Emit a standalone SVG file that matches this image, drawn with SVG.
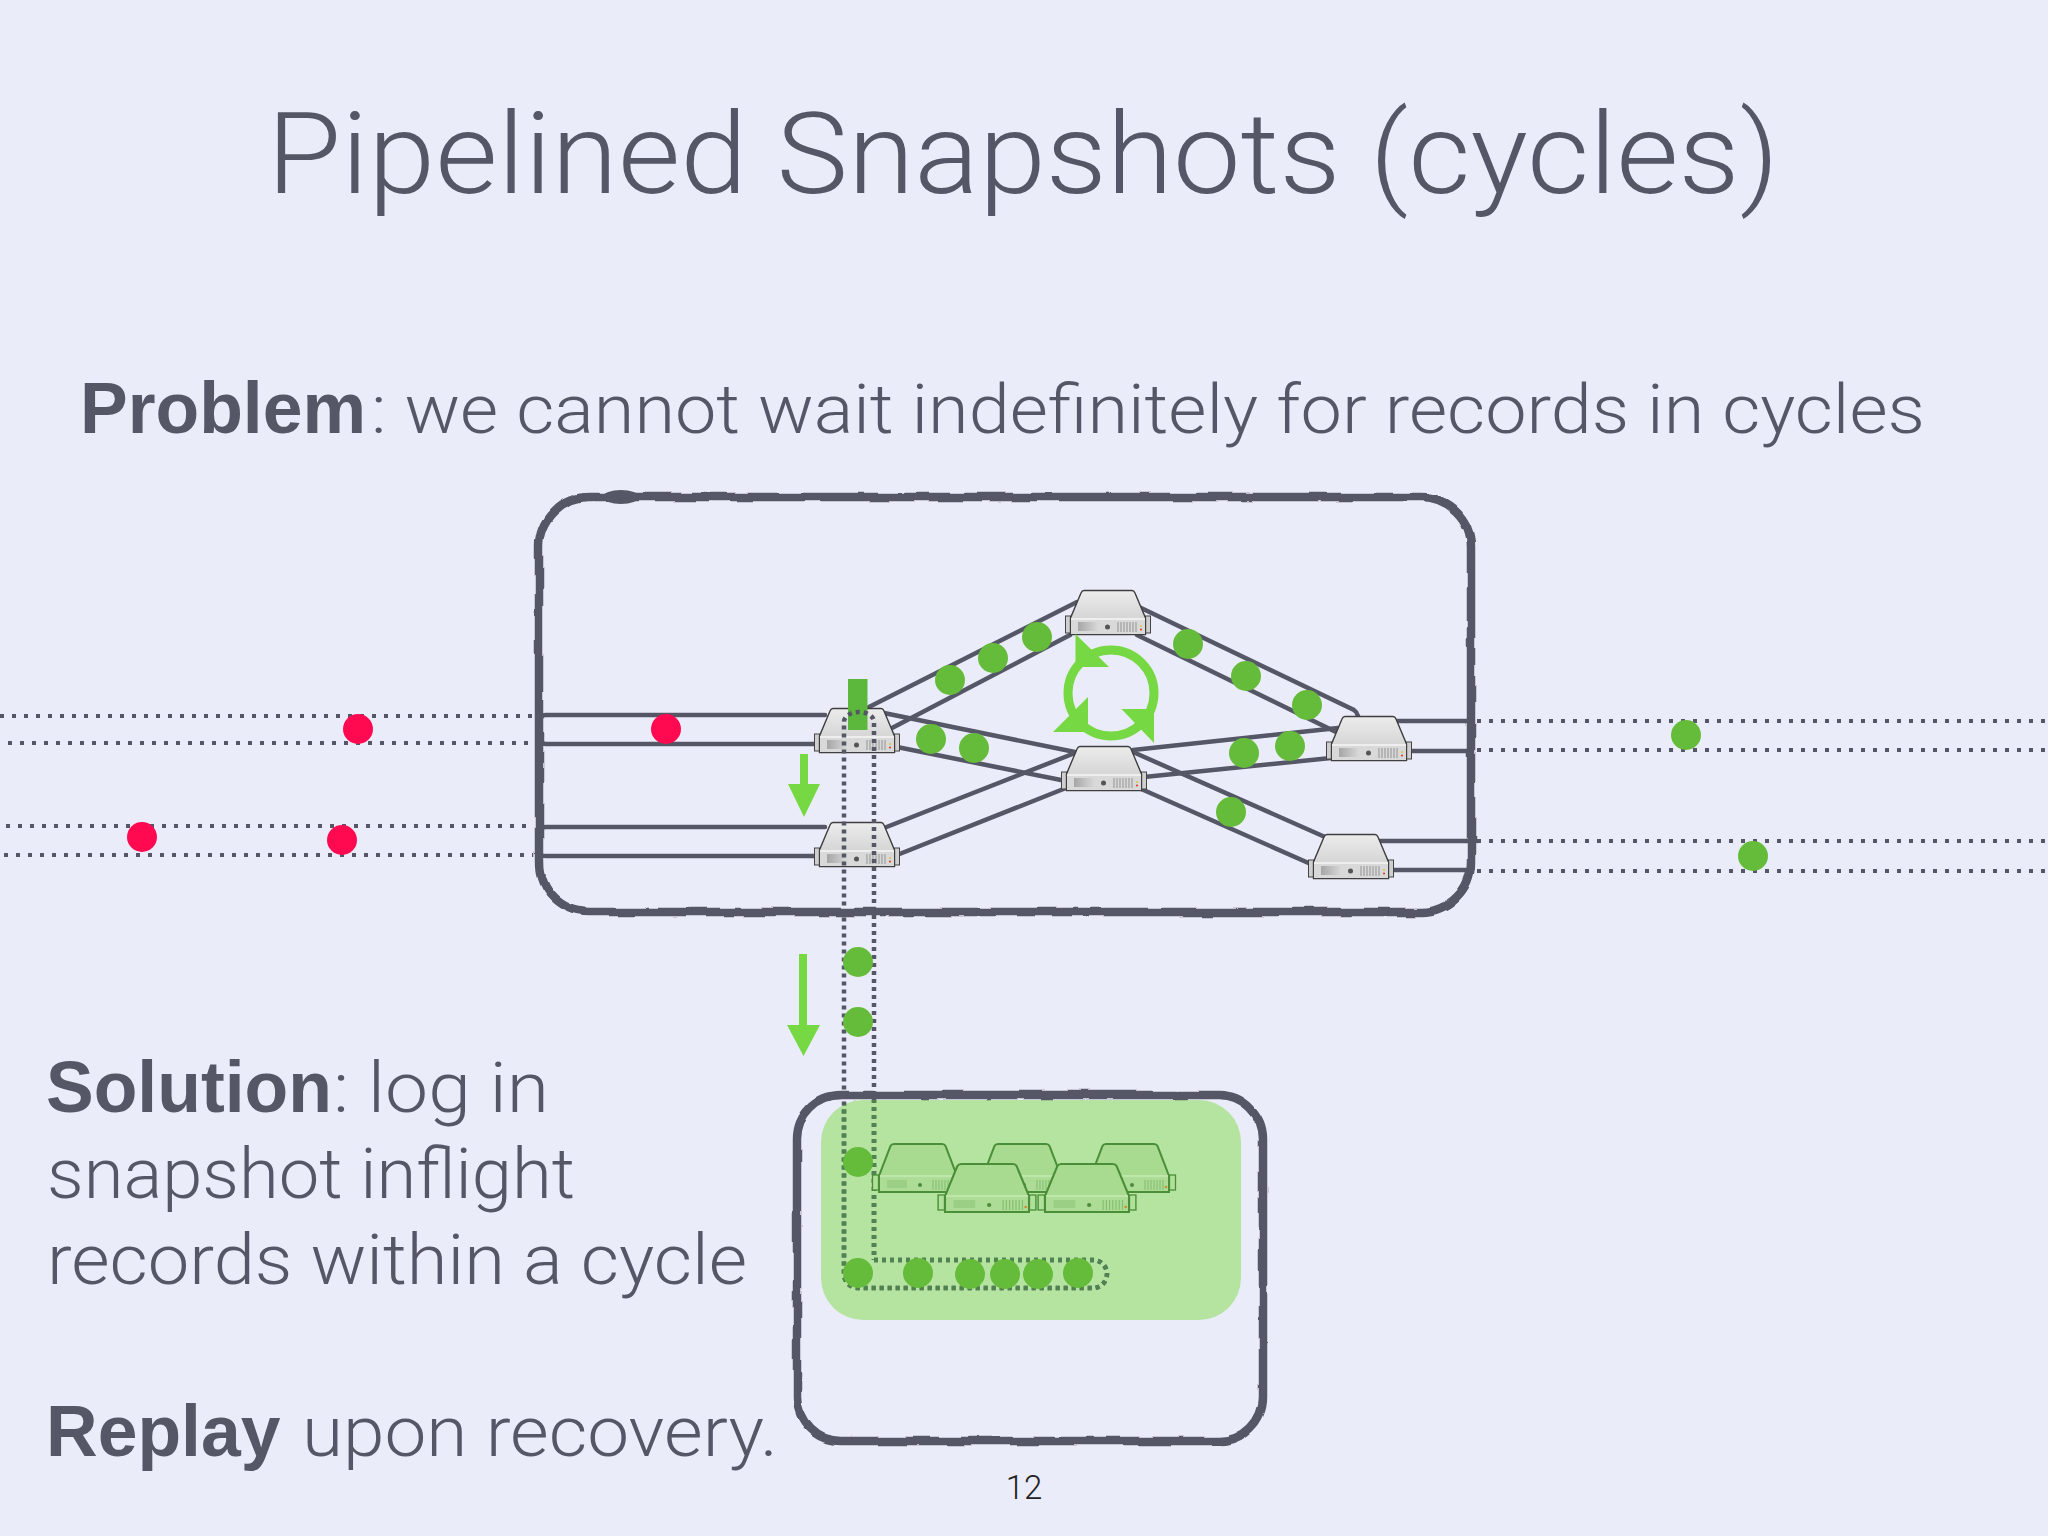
<svg xmlns="http://www.w3.org/2000/svg" width="2048" height="1536" viewBox="0 0 2048 1536">
<style>
.t{font-family:"Roboto","Liberation Sans",sans-serif;font-weight:300;fill:#565766}
.b{font-family:"Liberation Sans",Arial,sans-serif;font-weight:700;fill:#565766}
.wire{fill:none;stroke:#555766;stroke-width:4.500;stroke-linecap:round}
.dot{fill:none;stroke:#555766;stroke-width:4;stroke-dasharray:4 8}
.vdot{fill:none;stroke:#555766;stroke-width:4.500;stroke-dasharray:4 4}
.g{fill:#65BC3A}
.r{fill:#FF0A50}
.box{fill:none;stroke:#555766;stroke-width:8.500;filter:url(#wob)}
.bright{fill:#76D944}
</style>
<defs>
<filter id="wob" x="-3%" y="-3%" width="106%" height="106%"><feTurbulence type="fractalNoise" baseFrequency="0.03" numOctaves="2" seed="4"/><feDisplacementMap in="SourceGraphic" scale="5" xChannelSelector="R" yChannelSelector="G"/></filter>
<clipPath id="storeClip"><rect x="821" y="1100" width="420" height="220" rx="42"/></clipPath>
<linearGradient id="top" x1="0" y1="0" x2="0" y2="1"><stop offset="0" stop-color="#ECECEC"/><stop offset="1" stop-color="#C9C9C9"/></linearGradient>
<linearGradient id="slot" x1="0" y1="0" x2="1" y2="0"><stop offset="0" stop-color="#A6A6A6"/><stop offset="1" stop-color="#D8D8D8"/></linearGradient>
<g id="server">
<rect x="-4.500" y="26" width="5" height="17" fill="#CFCFCF" stroke="#444" stroke-width="1"/>
<rect x="75.500" y="26" width="5" height="17" fill="#CFCFCF" stroke="#444" stroke-width="1"/>
<path d="M14 0.500H62Q64 0.500 65 3L75.500 28V44.500H0.500V28L11 3Q12 0.500 14 0.500Z" fill="url(#top)" stroke="#3F3F3F" stroke-width="1.400"/>
<rect x="1" y="29" width="74" height="15" fill="#D9D9D9"/>
<path d="M1 29H75" stroke="#F6F6F6" stroke-width="1.500"/>
<rect x="8" y="32" width="20" height="9" fill="url(#slot)"/>
<circle cx="37.500" cy="37" r="2.500" fill="#555"/>
<path d="M48 32v10M51 32v10M54 32v10M57 32v10M60 32v10M63 32v10M66 32v10" stroke="#999" stroke-width="1.100"/>
<circle cx="71" cy="36" r="1" fill="#E0C040"/><circle cx="71" cy="39.500" r="1.100" fill="#E04030"/>
</g>
<g id="gserver">
<rect x="-5.500" y="32" width="6" height="15" fill="#B0E09A" stroke="#4A8F38" stroke-width="1.300"/>
<rect x="79.500" y="32" width="6" height="15" fill="#B0E09A" stroke="#4A8F38" stroke-width="1.300"/>
<path d="M16 1H64Q66.500 1 67.500 3L79 33V49H1V33L12.500 3Q13.500 1 16 1Z" fill="#A8DB90" stroke="#4A8F38" stroke-width="2"/>
<rect x="2" y="33" width="76" height="15" fill="#ACDC95"/>
<path d="M2 33H78" stroke="#C6EBB4" stroke-width="1.300"/>
<rect x="9" y="37" width="20" height="8" fill="#9CCF86"/>
<circle cx="42" cy="42" r="2" fill="#4E8A3C"/>
<path d="M55 37v10M58 37v10M61 37v10M64 37v10M67 37v10M70 37v10M73 37v10" stroke="#86BF72" stroke-width="1.100"/>
<circle cx="76" cy="44" r="1.300" fill="#D08A30"/>
</g>
</defs>
<rect width="2048" height="1536" fill="#EBECFA"/>
<text class="t" x="267" y="193" font-size="114" textLength="1512" lengthAdjust="spacingAndGlyphs">Pipelined Snapshots (cycles)</text>
<text class="b" x="80" y="433" font-size="71.500">Problem</text>
<text class="t" x="371" y="433" font-size="68" textLength="1554" lengthAdjust="spacingAndGlyphs">: we cannot wait indefinitely for records in cycles</text>
<text class="b" x="46" y="1112" font-size="71.500">Solution</text>
<text class="t" x="333" y="1112" font-size="70" textLength="216" lengthAdjust="spacingAndGlyphs">: log in</text>
<text class="t" x="47" y="1198" font-size="70" textLength="528" lengthAdjust="spacingAndGlyphs">snapshot inflight</text>
<text class="t" x="47" y="1284" font-size="70" textLength="700" lengthAdjust="spacingAndGlyphs">records within a cycle</text>
<text class="b" x="46" y="1456" font-size="71.500">Replay</text>
<text class="t" x="302" y="1456" font-size="70" textLength="476" lengthAdjust="spacingAndGlyphs">upon recovery.</text>
<text x="1024" y="1499" font-size="33" text-anchor="middle" fill="#222" font-family="'Roboto','Liberation Sans',sans-serif" font-weight="300">12</text>
<rect id="snapshot-store" x="821" y="1100" width="420" height="220" rx="42" fill="#B5E4A1"/>
<g id="connectors">
<path class="dot" d="M0 716H533"/><path class="dot" d="M-4 743H533"/><path class="dot" d="M-6 826H533"/><path class="dot" d="M-8 855H533"/>
<path class="dot" d="M1477 721H2048"/><path class="dot" d="M1477 750H2048"/><path class="dot" d="M1477 841H2048"/><path class="dot" d="M1477 871H2048"/>
<path class="wire" d="M541 718Q542 715 546 715H825M541 741Q542 744 546 744H825M541 830Q542 827 546 827H825M541 855Q542 856 546 856H825"/>
<path class="wire" d="M869 707L1077 602M892 728L1070 635"/>
<path class="wire" d="M1139 607L1354 710Q1357 712 1358 716M1137 635L1336 732"/>
<path class="wire" d="M884 713L1075 752M897 747L1061 780"/>
<path class="wire" d="M884 828L1075 753M897 855L1066 788"/>
<path class="wire" d="M1133 750L1338 728M1144 777L1331 758"/>
<path class="wire" d="M1133 752L1325 837M1139 788L1313 865"/>
<path class="wire" d="M1390 721H1468M1400 751H1468M1375 841H1468M1385 870H1468"/>
</g>
<use id="node-s1" href="#server" x="819" y="708"/>
<use id="node-s2" href="#server" x="819" y="822"/>
<use id="node-s3" href="#server" x="1070" y="590"/>
<use id="node-s4" href="#server" x="1066" y="746"/>
<use id="node-s5" href="#server" x="1331" y="716"/>
<use id="node-s6" href="#server" x="1313" y="834"/>
<rect id="barrier" x="848" y="679" width="19.500" height="51" fill="#5CB83C"/>
<path id="snapshot-path" class="vdot" d="M874 1260H1093A14 14 0 0 1 1093 1288H858A14 14 0 0 1 844 1274V722A15 10 0 0 1 874 722V1260"/>
<path id="snapshot-path-tinted" class="vdot" clip-path="url(#storeClip)" style="stroke:#4F8350" d="M874 1260H1093A14 14 0 0 1 1093 1288H858A14 14 0 0 1 844 1274V722A15 10 0 0 1 874 722V1260"/>
<g id="cycle-icon">
<circle cx="1111" cy="693" r="43" fill="none" stroke="#76D944" stroke-width="9"/>
<path class="bright" d="M1075.500 634V667H1109ZM1088 697V732H1053ZM1121.500 709H1154V743Z"/>
</g>
<g id="arrow-small"><path class="bright" d="M800 754H808V784H820L804 817L788 784H800Z"/></g>
<g id="arrow-large"><path class="bright" d="M799 954H807V1025H820L803.500 1056L787 1025H799Z"/></g>
<g id="records-red"><circle class="r" cx="358" cy="729" r="15"/><circle class="r" cx="666" cy="729" r="15"/><circle class="r" cx="142" cy="837" r="15"/><circle class="r" cx="342" cy="840" r="15"/></g>
<g id="records-green">
<circle class="g" cx="950" cy="680" r="15"/><circle class="g" cx="993" cy="658" r="15"/><circle class="g" cx="1037" cy="637" r="15"/>
<circle class="g" cx="1188" cy="644" r="15"/><circle class="g" cx="1246" cy="676" r="15"/><circle class="g" cx="1307" cy="705" r="15"/>
<circle class="g" cx="931" cy="739" r="15"/><circle class="g" cx="974" cy="748" r="15"/>
<circle class="g" cx="1244" cy="753" r="15"/><circle class="g" cx="1290" cy="746" r="15"/><circle class="g" cx="1231" cy="812" r="15"/>
<circle class="g" cx="1686" cy="735" r="15"/><circle class="g" cx="1753" cy="856" r="15"/>
<circle class="g" cx="858" cy="962" r="15"/><circle class="g" cx="858" cy="1022" r="15"/>
</g>
<use id="gs-a" href="#gserver" x="878" y="1143"/>
<use id="gs-b" href="#gserver" x="982" y="1143"/>
<use id="gs-c" href="#gserver" x="1090" y="1143"/>
<use id="gs-d" href="#gserver" transform="translate(944 1163) scale(1.075 1)"/>
<use id="gs-e" href="#gserver" transform="translate(1044 1163) scale(1.075 1)"/>
<g id="records-logged">
<circle class="g" cx="858" cy="1162" r="15"/><circle class="g" cx="858" cy="1273" r="15"/><circle class="g" cx="918" cy="1273" r="15"/><circle class="g" cx="970" cy="1274" r="15"/><circle class="g" cx="1005" cy="1274" r="15"/><circle class="g" cx="1038" cy="1274" r="15"/><circle class="g" cx="1078" cy="1273" r="15"/>
</g>
<rect id="job-box" class="box" x="539" y="497" width="932" height="415" rx="50"/>
<ellipse id="job-box-blot" cx="621" cy="497" rx="18" ry="7" fill="#555766"/>
<rect id="store-box" class="box" x="797" y="1095" width="466" height="346" rx="44"/>
</svg>
